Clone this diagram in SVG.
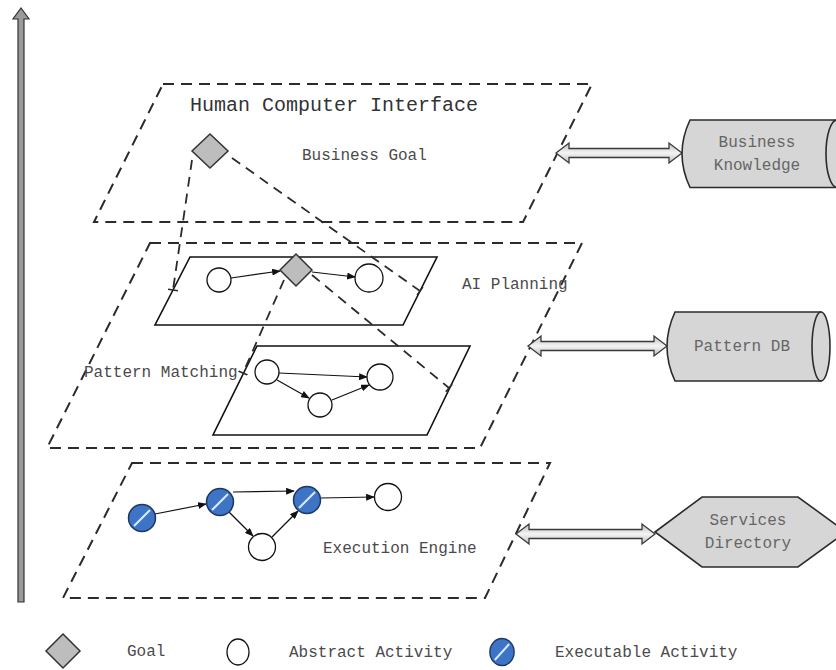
<svg xmlns="http://www.w3.org/2000/svg" width="836" height="670" viewBox="0 0 836 670">
<style>
.layer{fill:none;stroke:#2b2b2b;stroke-width:2;stroke-dasharray:11 7}
.proj{fill:none;stroke:#2b2b2b;stroke-width:1.8;stroke-dasharray:10 7}
.plane{fill:#fff;stroke:#111;stroke-width:1.6}
.act{fill:#fff;stroke:#111;stroke-width:1.3}
.goal{fill:#bdbdbd;stroke:#333;stroke-width:1.5}
.flow{fill:none;stroke:#111;stroke-width:1.2;marker-end:url(#ah)}
.store{fill:#d6d6d6;stroke:#2b2b2b;stroke-width:1.6}
.dbl{fill:url(#dg);stroke:#3a3a3a;stroke-width:1.3}
.t{font-family:"Liberation Mono",monospace;font-size:16px;fill:#4a4a4a}
.tc{font-family:"Liberation Mono",monospace;font-size:16px;fill:#666;text-anchor:middle}
</style>
<defs>
<marker id="ah" viewBox="0 0 10 8" refX="9" refY="4" markerWidth="9" markerHeight="7" markerUnits="userSpaceOnUse" orient="auto">
<path d="M0,0 L10,4 L0,8 Z" fill="#111"/>
</marker>
<marker id="tick" viewBox="-5 -5 10 10" refX="0" refY="0" markerWidth="10" markerHeight="10" markerUnits="userSpaceOnUse" orient="auto">
<path d="M0,-5 L0,5" stroke="#2b2b2b" stroke-width="1.6"/>
</marker>
<linearGradient id="dg" x1="0" y1="0" x2="0" y2="1">
<stop offset="0" stop-color="#bdbdbd"/>
<stop offset="0.5" stop-color="#f4f4f4"/>
<stop offset="1" stop-color="#bdbdbd"/>
</linearGradient>
<g id="exec">
<circle r="13.5" fill="#3d74c6" stroke="#1d3763" stroke-width="1.5"/>
<line x1="-8" y1="8" x2="8" y2="-8" stroke="#d5ecff" stroke-width="2.2"/>
</g>
</defs>

<g id="axis">
<path d="M18,602 L18,19 L13,19 L21,8 L29,19 L24,19 L24,602 Z" fill="#9a9a9a" stroke="#333" stroke-width="1.2"/>
</g>

<g id="layer-hci">
<polygon class="layer" points="163,84 592,84 523,222 94,222"/>
<text x="190" y="111" font-family="Liberation Mono, monospace" font-size="20" fill="#333">Human Computer Interface</text>
<text class="t" x="302" y="160">Business Goal</text>
</g>

<g id="layer-planning">
<polygon class="layer" points="150,243 582,243 480,448 47,448"/>
<text class="t" x="462" y="289">AI Planning</text>
<text class="t" x="84" y="377">Pattern Matching</text>
</g>

<g id="layer-execution">
<polygon class="layer" points="132,463 550,463 485,598 63,598"/>
<text class="t" x="323" y="553">Execution Engine</text>
</g>

<g id="plan-upper">
<polygon class="plane" points="190,257 437,257 403,325 155,325"/>
</g>
<g id="plan-lower">
<polygon class="plane" points="257,346 470,346 427,435 213,435"/>
</g>

<g id="connectors">
<line class="proj" x1="192" y1="160" x2="173" y2="290" marker-end="url(#tick)"/>
<line class="proj" x1="232" y1="158" x2="420" y2="291" marker-end="url(#tick)"/>
<line class="proj" x1="284" y1="280" x2="243" y2="373" marker-end="url(#tick)"/>
<line class="proj" x1="312" y1="275" x2="449" y2="388" marker-end="url(#tick)"/>
<line class="flow" x1="231" y1="278" x2="280" y2="271"/>
<line class="flow" x1="312" y1="272" x2="355" y2="277"/>
<line class="flow" x1="279" y1="373" x2="367" y2="377"/>
<line class="flow" x1="277" y1="380" x2="309" y2="398"/>
<line class="flow" x1="332" y1="400" x2="369" y2="385"/>
<line class="flow" x1="155" y1="514" x2="206" y2="504"/>
<line class="flow" x1="233" y1="492" x2="294" y2="491"/>
<line class="flow" x1="321" y1="498" x2="374" y2="497"/>
<line class="flow" x1="229" y1="512" x2="253" y2="536"/>
<line class="flow" x1="272" y1="537" x2="298" y2="511"/>
<polygon class="dbl" points="556,153 569,143 569,148.5 669,148.5 669,143 682,153 669,163 669,157.5 569,157.5 569,163"/>
<polygon class="dbl" points="528,346 541,336 541,341.5 654,341.5 654,336 667,346 654,356 654,350.5 541,350.5 541,356"/>
<polygon class="dbl" points="516,534 529,524 529,529.5 642,529.5 642,524 655,534 642,544 642,538.5 529,538.5 529,544"/>
</g>

<g id="goal-top"><polygon class="goal" points="210,134 228,151 210,168 192,151"/></g>
<g id="goal-mid"><polygon class="goal" points="296,254 312,270 296,286 280,270"/></g>

<g id="act-u1"><circle class="act" cx="219" cy="280" r="12"/></g>
<g id="act-u2"><circle class="act" cx="369" cy="278" r="14"/></g>
<g id="act-l1"><circle class="act" cx="267" cy="372" r="12"/></g>
<g id="act-l2"><circle class="act" cx="380" cy="377" r="13"/></g>
<g id="act-l3"><circle class="act" cx="320" cy="405" r="12"/></g>

<g id="exec-1"><use href="#exec" x="142" y="518"/></g>
<g id="exec-2"><use href="#exec" x="220" y="502"/></g>
<g id="exec-3"><use href="#exec" x="307" y="500"/></g>
<g id="act-e1"><circle class="act" cx="388" cy="497" r="13.5"/></g>
<g id="act-e2"><circle class="act" cx="262" cy="547" r="13.5"/></g>

<g id="business-knowledge">
<path class="store" d="M690,120 L850,120 L850,187.5 L690,187.5 Q674,153.7 690,120 Z"/>
<ellipse class="store" cx="837" cy="153.7" rx="11" ry="33.7"/>
<text class="tc" x="757" y="147">Business</text>
<text class="tc" x="757" y="170">Knowledge</text>
</g>

<g id="pattern-db">
<path class="store" d="M675,312 L821,312 L821,381 L675,381 Q659,346.5 675,312 Z"/>
<ellipse class="store" cx="821" cy="346.5" rx="9" ry="34.5"/>
<text class="tc" x="742" y="351">Pattern DB</text>
</g>

<g id="services-directory">
<polygon class="store" points="655,532 702,497 798,497 846,532 798,567 702,567"/>
<text class="tc" x="748" y="525">Services</text>
<text class="tc" x="748" y="548">Directory</text>
</g>

<g id="legend">
<polygon class="goal" points="63,634 80,651 63,668 46,651"/>
<text class="t" x="127" y="656">Goal</text>
<ellipse class="act" cx="238" cy="652" rx="11" ry="13"/>
<text class="t" x="289" y="657">Abstract Activity</text>
<g transform="translate(502,652) scale(0.9,1)"><use href="#exec"/></g>
<text class="t" x="555" y="657">Executable Activity</text>
</g>
</svg>
